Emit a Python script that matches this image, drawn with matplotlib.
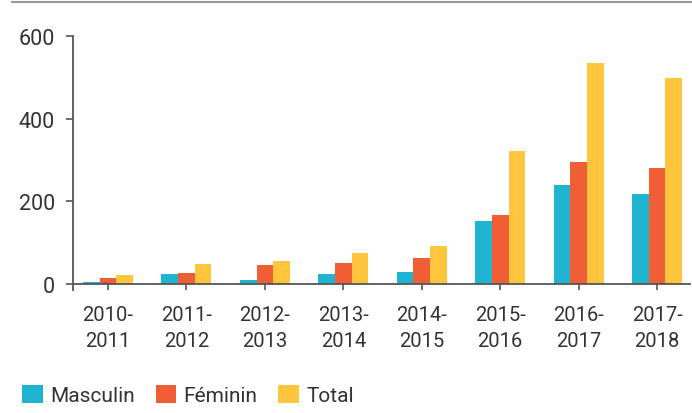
import numpy as np
import matplotlib.pyplot as plt
from matplotlib.lines import Line2D

# data
years = ['2010-\n2011', '2011-\n2012', '2012-\n2013', '2013-\n2014',
         '2014-\n2015', '2015-\n2016', '2016-\n2017', '2017-\n2018']
masculin = [5, 23, 10, 24, 28, 153, 239, 218]
feminin = [15, 27, 46, 51, 62, 167, 296, 280]
total = [21, 48, 56, 75, 91, 321, 535, 498]

plt.rcParams['font.family'] = ['Roboto', 'DejaVu Sans']

fig = plt.figure(figsize=(6.92, 4.14), dpi=100)
ax = fig.add_axes([73/692, 1 - 291/414, 617/692, 254/414])

x = np.arange(len(years))
w = 0.213
ax.bar(x - w, masculin, w, color='#1fb5d0', label='Masculin')
ax.bar(x, feminin, w, color='#ef5e35', label='Féminin')
ax.bar(x + w, total, w, color='#fec53d', label='Total')

ax.set_xlim(-0.446, 7.42)
ax.set_ylim(-15, 600)

for s in ['top', 'right']:
    ax.spines[s].set_visible(False)
ax.spines['bottom'].set_position(('data', 0))
ax.spines['bottom'].set_color('#555555')
ax.spines['left'].set_color('#555555')
ax.spines['bottom'].set_linewidth(1.3)
ax.spines['left'].set_linewidth(1.3)
ax.tick_params(axis='y', length=5, width=1.2, color='#555555', pad=8,
               labelsize=15.5, labelcolor='#333333')
ax.tick_params(axis='x', length=4.5, width=1.2, color='#555555', pad=10.5,
               labelsize=14.5, labelcolor='#333333')

ax.set_yticks([0, 200, 400, 600])
ax.set_xticks(x)
ax.set_xticklabels(years)
for lab in ax.get_xticklabels():
    lab.set_linespacing(1.5)

# top rule
fig.add_artist(Line2D([12/692, 1], [1 - 3/414, 1 - 3/414], color='#9a9a9a', lw=1.5))

fig.legend(loc='center left', bbox_to_anchor=(22/692, 1 - 396/414), ncol=3,
           frameon=False, fontsize=15, handlelength=1.0, handleheight=1.0,
           handletextpad=0.35, columnspacing=1.0, labelcolor='#333333',
           borderaxespad=0, borderpad=0)

fig.savefig('out.png', dpi=100)
